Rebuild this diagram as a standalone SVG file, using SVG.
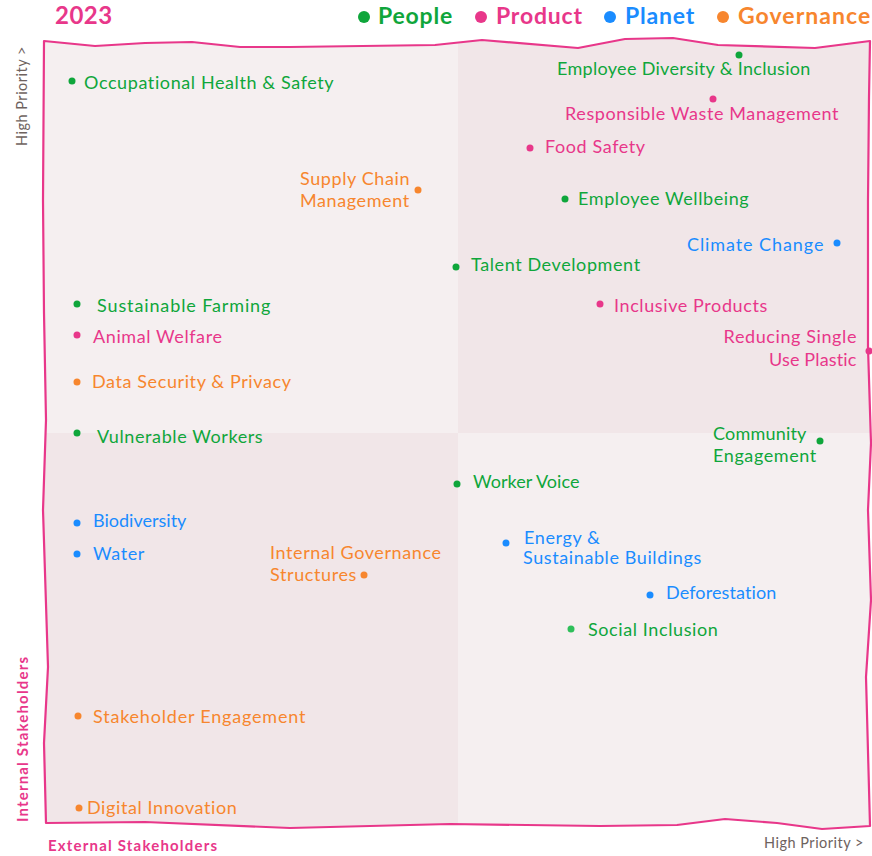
<svg xmlns="http://www.w3.org/2000/svg" width="872" height="856" viewBox="0 0 872 856">
<style>
text{font-family:Lato,"Noto Sans","Liberation Sans",sans-serif;font-size:18px;letter-spacing:0.6px}
.g{fill:#0fa63b}.p{fill:#e8378a}.b{fill:#1a8cff}.o{fill:#f7862e}
.lg{font-size:23px;font-weight:bold;letter-spacing:0.8px}
.ax{font-size:14.5px;fill:#6e625e;letter-spacing:0.5px}
.axp{font-size:15px;font-weight:bold;fill:#e8378a;letter-spacing:1px}
.r{text-anchor:end}
</style>
<defs>
<clipPath id="clip"><path id="bp" d="M44,41 L95,46 L145,43 L192,42 L240,47 L290,47 L435,45 L482,40 L578,48 L625,39 L673,38 L718,45 L815,48 L870,41 L869,97 L868,200 L868,347 L871,443 L868,510 L871,600 L866,677 L870,826 L822,829 L777,823 L725,819 L677,825 L600,826 L450,824 L290,828 L145,822 L46,823 L44,743 L48,667 L43,510 L46,420 L44,313 L43,200 Z"/></clipPath>
</defs>
<g id="background" clip-path="url(#clip)">
<rect x="0" y="0" width="458" height="433" fill="#f5eff0"/>
<rect x="458" y="0" width="414" height="433" fill="#f1e6e8"/>
<rect x="0" y="433" width="458" height="423" fill="#f1e6e8"/>
<rect x="458" y="433" width="414" height="423" fill="#f5eff0"/>
</g>
<path d="M44,41 L95,46 L145,43 L192,42 L240,47 L290,47 L435,45 L482,40 L578,48 L625,39 L673,38 L718,45 L815,48 L870,41 L869,97 L868,200 L868,347 L871,443 L868,510 L871,600 L866,677 L870,826 L822,829 L777,823 L725,819 L677,825 L600,826 L450,824 L290,828 L145,822 L46,823 L44,743 L48,667 L43,510 L46,420 L44,313 L43,200 Z" fill="none" stroke="#e8378a" stroke-width="2.2" stroke-linejoin="round"/>

<g id="header">
<text x="55" y="24" class="p" style="font-size:24px;font-weight:bold;letter-spacing:0.5px">2023</text>
</g>
<g id="legend">
<g id="legend-people"><circle cx="364" cy="17" r="6" class="g"/><text x="378" y="24" class="g lg">People</text></g>
<g id="legend-product"><circle cx="481" cy="17" r="6" class="p"/><text x="496" y="24" class="p lg">Product</text></g>
<g id="legend-planet"><circle cx="610" cy="17" r="6" class="b"/><text x="625" y="24" class="b lg">Planet</text></g>
<g id="legend-governance"><circle cx="723" cy="17" r="6" class="o"/><text x="738" y="24" class="o lg" textLength="133">Governance</text></g>
</g>
<g id="axes">
<text class="ax" transform="translate(27,146) rotate(-90)">High Priority &gt;</text>
<text class="axp" transform="translate(28,822) rotate(-90)" textLength="166">Internal Stakeholders</text>
<text class="axp" x="48" y="851" textLength="170">External Stakeholders</text>
<text class="ax" x="764" y="848">High Priority &gt;</text>
</g>

<g id="connectors"></g>

<g id="n-occupational"><circle cx="72" cy="81" r="3.5" class="g"/><text x="84" y="89" class="g">Occupational Health &amp; Safety</text></g>
<g id="n-diversity"><circle cx="739" cy="55" r="3.5" class="g"/><text x="557" y="75" class="g" textLength="254">Employee Diversity &amp; Inclusion</text></g>
<g id="n-waste"><circle cx="713" cy="99" r="3.5" class="p"/><text x="565" y="120" class="p">Responsible Waste Management</text></g>
<g id="n-food"><circle cx="530" cy="148" r="3.5" class="p"/><text x="545" y="153" class="p">Food Safety</text></g>
<g id="n-supply"><circle cx="418" cy="190" r="3.5" class="o"/><text x="300" y="185" class="o">Supply Chain</text><text x="300" y="207" class="o">Management</text></g>
<g id="n-wellbeing"><circle cx="565" cy="199" r="3.5" class="g"/><text x="578" y="205" class="g">Employee Wellbeing</text></g>
<g id="n-climate"><circle cx="837" cy="243" r="3.5" class="b"/><text x="824" y="251" class="b r" textLength="137">Climate Change</text></g>
<g id="n-talent"><circle cx="456" cy="267" r="3.5" class="g"/><text x="471" y="271" class="g">Talent Development</text></g>
<g id="n-farming"><circle cx="77" cy="304" r="3.5" class="g"/><text x="97" y="312" class="g" textLength="174">Sustainable Farming</text></g>
<g id="n-inclusive"><circle cx="600" cy="304" r="3.5" class="p"/><text x="614" y="312" class="p">Inclusive Products</text></g>
<g id="n-animal"><circle cx="77" cy="335" r="3.5" class="p"/><text x="93" y="343" class="p">Animal Welfare</text></g>
<g id="n-plastic"><circle cx="869" cy="351" r="3.5" class="p"/><text x="857" y="343" class="p r">Reducing Single</text><text x="857" y="366" class="p r" textLength="88">Use Plastic</text></g>
<g id="n-data"><circle cx="77" cy="382" r="3.5" class="o"/><text x="92" y="388" class="o">Data Security &amp; Privacy</text></g>
<g id="n-vulnerable"><circle cx="77" cy="433" r="3.5" class="g"/><text x="97" y="443" class="g">Vulnerable Workers</text></g>
<g id="n-community"><circle cx="820" cy="441" r="3.5" class="g"/><text x="713" y="440" class="g" textLength="94">Community</text><text x="713" y="462" class="g">Engagement</text></g>
<g id="n-worker"><circle cx="457" cy="484" r="3.5" class="g"/><text x="473" y="488" class="g" textLength="107">Worker Voice</text></g>
<g id="n-biodiversity"><circle cx="77" cy="523" r="3.5" class="b"/><text x="93" y="527" class="b" textLength="94">Biodiversity</text></g>
<g id="n-water"><circle cx="77" cy="554" r="3.5" class="b"/><text x="93" y="560" class="b">Water</text></g>
<g id="n-governance"><circle cx="364" cy="575" r="3.5" class="o"/><text x="270" y="559" class="o">Internal Governance</text><text x="270" y="581" class="o">Structures</text></g>
<g id="n-energy"><circle cx="506" cy="543" r="3.5" class="b"/><text x="524" y="544" class="b">Energy &amp;</text><text x="523" y="564" class="b">Sustainable Buildings</text></g>
<g id="n-deforestation"><circle cx="650" cy="595" r="3.5" class="b"/><text x="666" y="599" class="b" textLength="111">Deforestation</text></g>
<g id="n-social"><circle cx="571" cy="629" r="3.5" fill="#2fbf5a"/><text x="588" y="636" class="g">Social Inclusion</text></g>
<g id="n-stakeholder"><circle cx="78" cy="716" r="3.5" class="o"/><text x="93" y="723" class="o" textLength="213">Stakeholder Engagement</text></g>
<g id="n-digital"><circle cx="79" cy="808" r="3.5" class="o"/><text x="87" y="814" class="o">Digital Innovation</text></g>
</svg>
